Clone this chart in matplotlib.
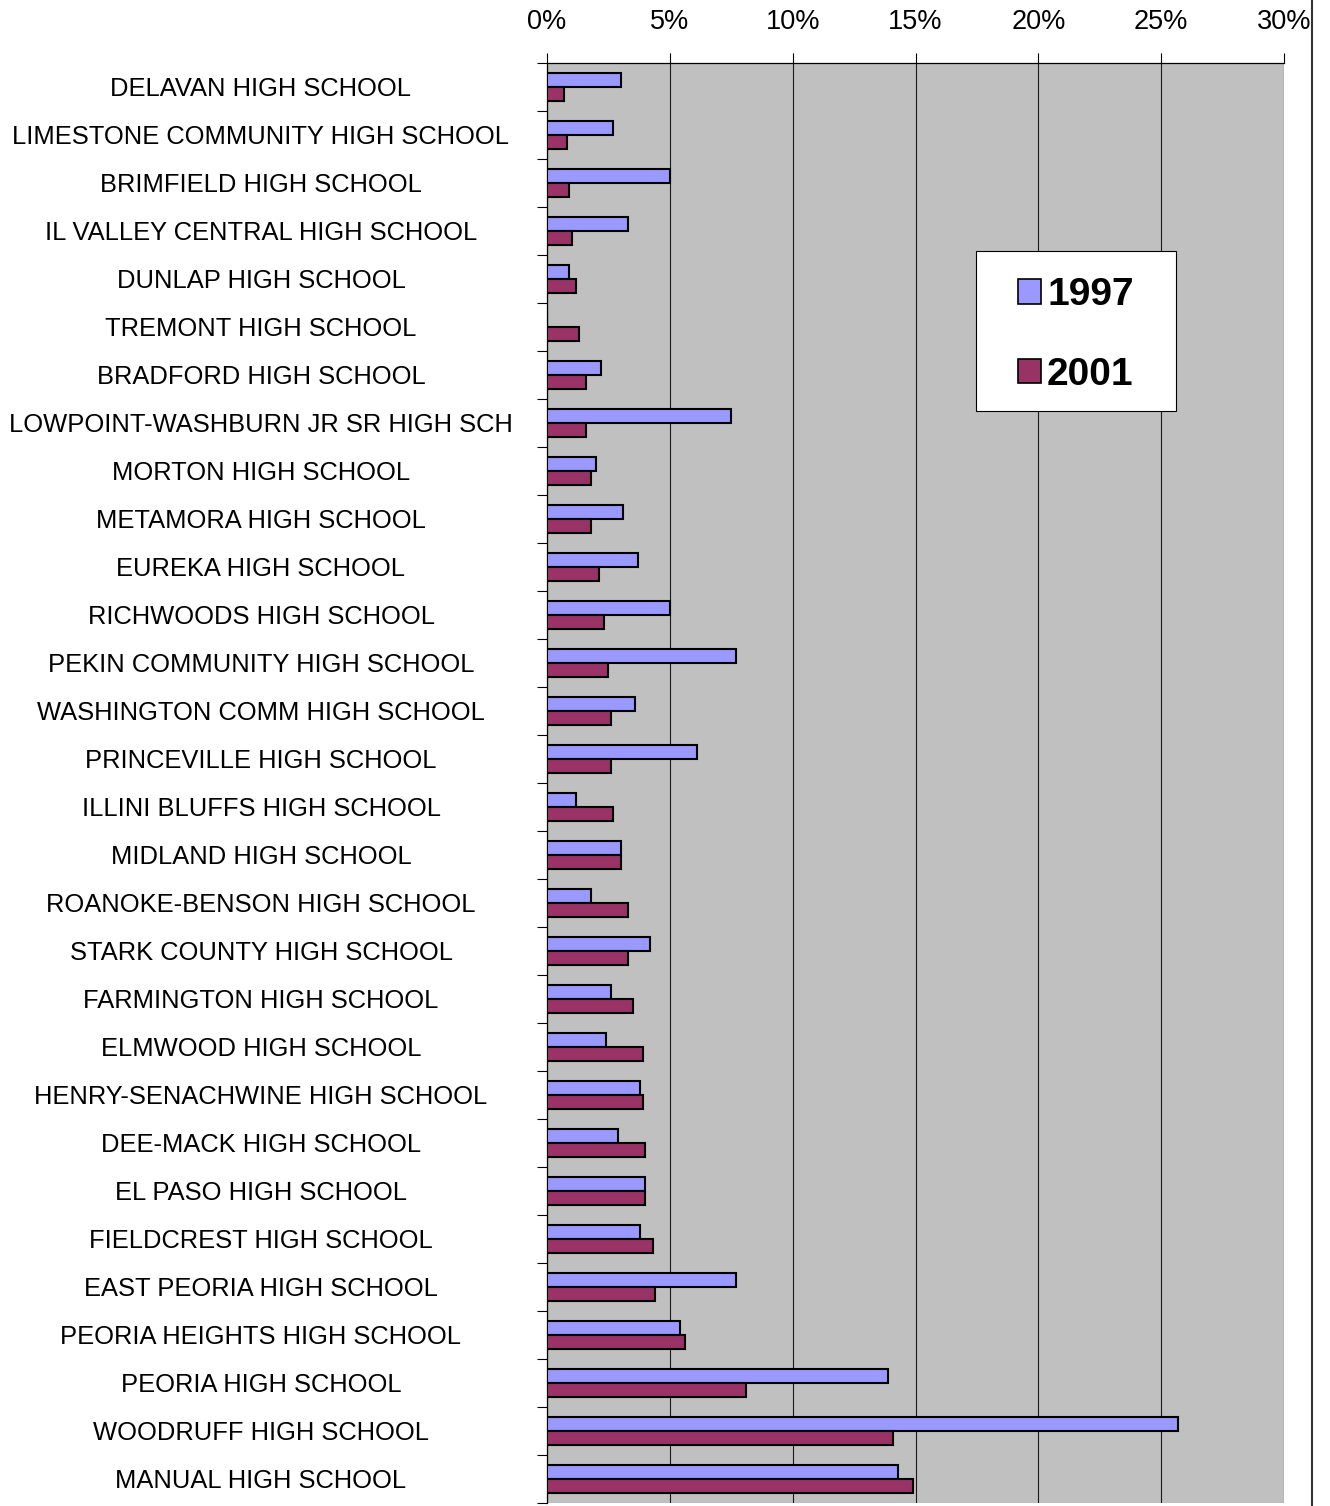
import matplotlib
matplotlib.use("Agg")
import matplotlib.pyplot as plt
from matplotlib.patches import Patch, Rectangle
from matplotlib.lines import Line2D
import numpy as np

plt.rcParams["font.family"] = ["Liberation Sans", "DejaVu Sans"]

schools = [
    "DELAVAN HIGH SCHOOL",
    "LIMESTONE COMMUNITY HIGH SCHOOL",
    "BRIMFIELD HIGH SCHOOL",
    "IL VALLEY CENTRAL HIGH SCHOOL",
    "DUNLAP HIGH SCHOOL",
    "TREMONT HIGH SCHOOL",
    "BRADFORD HIGH SCHOOL",
    "LOWPOINT-WASHBURN JR SR HIGH SCH",
    "MORTON HIGH SCHOOL",
    "METAMORA HIGH SCHOOL",
    "EUREKA HIGH SCHOOL",
    "RICHWOODS HIGH SCHOOL",
    "PEKIN COMMUNITY HIGH SCHOOL",
    "WASHINGTON COMM HIGH SCHOOL",
    "PRINCEVILLE HIGH SCHOOL",
    "ILLINI BLUFFS HIGH SCHOOL",
    "MIDLAND HIGH SCHOOL",
    "ROANOKE-BENSON HIGH SCHOOL",
    "STARK COUNTY HIGH SCHOOL",
    "FARMINGTON HIGH SCHOOL",
    "ELMWOOD HIGH SCHOOL",
    "HENRY-SENACHWINE HIGH SCHOOL",
    "DEE-MACK HIGH SCHOOL",
    "EL PASO HIGH SCHOOL",
    "FIELDCREST HIGH SCHOOL",
    "EAST PEORIA HIGH SCHOOL",
    "PEORIA HEIGHTS HIGH SCHOOL",
    "PEORIA HIGH SCHOOL",
    "WOODRUFF HIGH SCHOOL",
    "MANUAL HIGH SCHOOL",
]

pct_1997 = [3.0, 2.7, 5.0, 3.3, 0.9, 0.0, 2.2, 7.5, 2.0, 3.1,
            3.7, 5.0, 7.7, 3.6, 6.1, 1.2, 3.0, 1.8, 4.2, 2.6,
            2.4, 3.8, 2.9, 4.0, 3.8, 7.7, 5.4, 13.9, 25.7, 14.3]

pct_2001 = [0.7, 0.8, 0.9, 1.0, 1.2, 1.3, 1.6, 1.6, 1.8, 1.8,
            2.1, 2.3, 2.5, 2.6, 2.6, 2.7, 3.0, 3.3, 3.3, 3.5,
            3.9, 3.9, 4.0, 4.0, 4.3, 4.4, 5.6, 8.1, 14.1, 14.9]

years = ["1997", "2001"]
year_colors = ["#9999FF", "#993366"]
x_ticks = [0, 5, 10, 15, 20, 25, 30]

W, H = 1330, 1506
fig = plt.figure(figsize=(W / 100, H / 100), dpi=100)
ax = fig.add_axes([547 / W, 3 / H, 737 / W, 1440 / H])
ax.set_facecolor("#C0C0C0")

y = np.arange(len(schools))
bh = 0.29
for vals, off, col in [(pct_1997, -bh / 2, year_colors[0]), (pct_2001, bh / 2, year_colors[1])]:
    ax.barh(y + off, vals, height=bh, color=col, edgecolor="black",
            linewidth=1.5, zorder=3)

ax.set_xlim(0, 30)
ax.set_ylim(len(schools) - 0.5, -0.5)

# percentage axis along the top
ax.xaxis.tick_top()
ax.set_xticks(x_ticks)
ax.set_xticklabels([f"{v}%" for v in x_ticks])
ax.tick_params(axis="x", length=7.2, width=0.8, pad=13, labelsize=19.5,
               colors="black")
ax.grid(axis="x", color="#1a1a1a", linewidth=0.8, zorder=1)
ax.set_axisbelow(True)

# school names centred in the left margin, tick marks between categories
ax.set_yticks(y)
ax.set_yticklabels(schools, ha="center")
ax.tick_params(axis="y", which="major", length=0, pad=(547 - 261) * 0.72,
               labelsize=18.4)
ax.set_yticks(np.arange(-0.5, len(schools), 1), minor=True)
ax.tick_params(axis="y", which="minor", length=7.2, width=0.8, color="black")

for side in ["right", "bottom"]:
    ax.spines[side].set_visible(False)
ax.spines["top"].set_linewidth(0.9)
ax.spines["left"].set_linewidth(0.9)

# legend box
fig.add_artist(Rectangle((976 / W, 1 - 411 / H), 200 / W, 160 / H,
                         transform=fig.transFigure, facecolor="white",
                         edgecolor="black", linewidth=0.8, zorder=4))
handles = [Patch(facecolor=c, edgecolor="black", linewidth=1.2) for c in year_colors]
fig.legend(handles, years, loc="center",
           bbox_to_anchor=(1076 / W, 1 - 335 / H), frameon=False,
           prop={"weight": "bold", "size": 28}, handlelength=0.59,
           handleheight=0.59, handletextpad=0.15, labelspacing=1.13,
           borderpad=0.0)

# chart-area border on the right
fig.add_artist(Line2D([1312 / W, 1312 / W], [0, 1], transform=fig.transFigure,
                      color="#333333", linewidth=1.5))

fig.savefig("out.png", dpi=100, facecolor="white")
